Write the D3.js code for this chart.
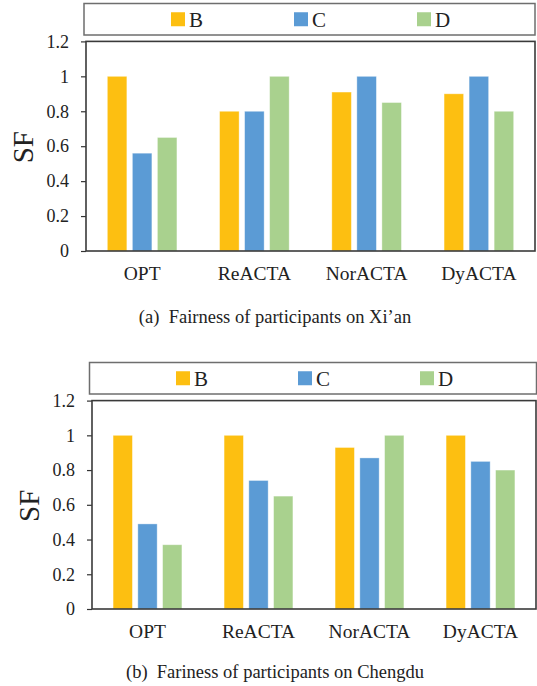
<!DOCTYPE html>
<html>
<head>
<meta charset="utf-8">
<script src="https://cdn.jsdelivr.net/npm/d3@7"></script>
<style>
  html, body { margin: 0; padding: 0; background: #fff; }
  svg { display: block; }
  text { font-family: "Liberation Serif", "Times New Roman", serif; fill: #222; }
</style>
</head>
<body>
<svg id="chart" width="537" height="686"></svg>
<script>
const categories = ["OPT", "ReACTA", "NorACTA", "DyACTA"];
const seriesNames = ["B", "C", "D"];
const seriesColors = ["#FDBF11", "#5B9BD5", "#A9D18E"];

const xianB = [1.0, 0.8, 0.91, 0.9];
const xianC = [0.56, 0.8, 1.0, 1.0];
const xianD = [0.65, 1.0, 0.85, 0.8];

const chengduB = [1.0, 1.0, 0.93, 1.0];
const chengduC = [0.49, 0.74, 0.87, 0.85];
const chengduD = [0.37, 0.65, 1.0, 0.8];

const yTickValues = [0, 0.2, 0.4, 0.6, 0.8, 1.0, 1.2];
const yTickLabels = ["0", "0.2", "0.4", "0.6", "0.8", "1", "1.2"];
const yLabel = "SF";
const captionA = "(a)\u2002Fairness of participants on Xi\u2019an";
const captionB = "(b)\u2002Fariness of participants on Chengdu";

const svg = d3.select("#chart");

function drawPanel(cfg) {
  const { left, right, top, bottom, legend, series, caption, captionY } = cfg;
  const g = svg.append("g");

  const x0 = d3.scaleBand().domain(categories).range([left, right]).padding(0);
  const bw = x0.bandwidth();
  const groupW = bw * 0.62;
  const x1 = d3.scaleBand().domain(seriesNames)
    .range([bw / 2 - groupW / 2, bw / 2 + groupW / 2]).paddingInner(0.22).paddingOuter(0);
  const y = d3.scaleLinear().domain([0, 1.2]).range([bottom, top]);

  // legend box
  g.append("rect")
    .attr("x", legend.x1).attr("y", legend.y1)
    .attr("width", legend.x2 - legend.x1).attr("height", legend.y2 - legend.y1)
    .attr("fill", "#fff").attr("stroke", "#6e6e6e").attr("stroke-width", 1.5);
  const legendItemX = legend.items;
  seriesNames.forEach((s, i) => {
    const lx = legendItemX[i];
    const cy = (legend.y1 + legend.y2) / 2;
    g.append("rect").attr("x", lx).attr("y", cy - 7).attr("width", 14).attr("height", 14)
      .attr("fill", seriesColors[i]);
    g.append("text").attr("x", lx + 18).attr("y", cy + 7.5)
      .attr("font-size", 21).text(s);
  });

  // bars
  const groups = g.append("g").selectAll("g").data(categories).join("g")
    .attr("transform", d => `translate(${x0(d)},0)`);
  groups.selectAll("rect")
    .data((c, ci) => seriesNames.map((s, si) => ({ s, si, v: series[si][ci] })))
    .join("rect")
    .attr("x", d => x1(d.s))
    .attr("y", d => y(d.v))
    .attr("width", x1.bandwidth())
    .attr("height", d => y(0) - y(d.v))
    .attr("fill", d => seriesColors[d.si])
    .attr("stroke", "#ffffff").attr("stroke-opacity", 0.45).attr("stroke-width", 0.8);

  // y axis
  const yAxis = d3.axisLeft(y).tickValues(yTickValues)
    .tickFormat((d, i) => yTickLabels[i]).tickSize(5).tickPadding(12);
  const ya = g.append("g").attr("transform", `translate(${left},0)`).call(yAxis);
  ya.select(".domain").remove();
  ya.selectAll(".tick line").attr("stroke", "#333").attr("stroke-width", 1.2);
  ya.selectAll(".tick text").attr("font-size", 18)
    .style("font-family", "'Liberation Serif', serif").attr("fill", "#222");

  // x axis
  const xAxis = d3.axisBottom(x0).tickSize(0).tickPadding(15);
  const xa = g.append("g").attr("transform", `translate(0,${bottom})`).call(xAxis);
  xa.select(".domain").remove();
  xa.selectAll(".tick text").attr("font-size", 19.5)
    .style("font-family", "'Liberation Serif', serif").attr("fill", "#222");

  // frame
  g.append("rect").attr("x", left).attr("y", top)
    .attr("width", right - left).attr("height", bottom - top)
    .attr("fill", "none").attr("stroke", "#3a3a3a").attr("stroke-width", 1.6);

  // y label
  g.append("text")
    .attr("transform", `translate(${left - 53},${(top + bottom) / 2 + 1}) rotate(-90)`)
    .attr("text-anchor", "middle").attr("font-size", 29).text(yLabel);

  // caption
  g.append("text").attr("x", 275).attr("y", captionY)
    .attr("text-anchor", "middle").attr("font-size", 18.5).text(caption);
}

drawPanel({
  left: 86, right: 535, top: 41.4, bottom: 251,
  legend: { x1: 84, x2: 535, y1: 3.5, y2: 35, items: [171, 294, 417] },
  series: [xianB, xianC, xianD],
  caption: captionA, captionY: 323
});

drawPanel({
  left: 92, right: 536, top: 400.6, bottom: 609,
  legend: { x1: 89.5, x2: 536.5, y1: 362.5, y2: 394, items: [176, 298, 420] },
  series: [chengduB, chengduC, chengduD],
  caption: captionB, captionY: 678
});
</script>
</body>
</html>
